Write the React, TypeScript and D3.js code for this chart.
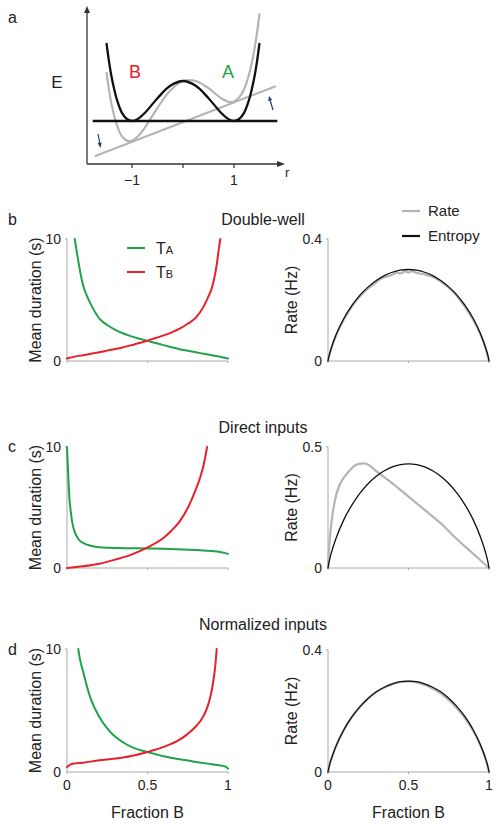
import React from "react";
import * as d3 from "d3";

const FONT = "'Liberation Sans', Arial, Helvetica, sans-serif";
const GREEN = "#1fa34a";
const RED = "#e8202a";
const GREY = "#b4b4b4";
const AXIS = "#a8a8a8";

// ---------- Panel a : energy landscape ----------
const aR = [-1.5, -1.45, -1.4, -1.35, -1.3, -1.2, -1.1, -1, -0.9, -0.75, -0.5, -0.25, 0, 0.25, 0.5, 0.75, 0.9, 1, 1.1, 1.2, 1.3, 1.35, 1.4, 1.45, 1.5];
const aBlack = [1.95, 1.48, 1.1, 0.8, 0.55, 0.21, 0.05, 0, 0.04, 0.2, 0.57, 0.88, 1, 0.88, 0.57, 0.2, 0.04, 0, 0.05, 0.21, 0.55, 0.8, 1.1, 1.48, 1.95];
const aGrey = [1.22, 0.77, 0.41, 0.14, -0.09, -0.38, -0.49, -0.49, -0.4, -0.17, 0.33, 0.76, 1, 1.0, 0.82, 0.57, 0.48, 0.49, 0.59, 0.8, 1.19, 1.46, 1.79, 2.19, 2.69];
const aFlatR = [-1.77, 1.85];
const aFlatE = [0, 0];
const aTiltR = [-1.73, 1.82];
const aTiltE = [-0.88, 0.87];
const aTicks = [-1, 0, 1];
const aTickLabels = ["\u22121", "", "1"];

// ---------- Panel b : double-well ----------
const bAx = [0.048, 0.06, 0.07, 0.085, 0.1, 0.125, 0.15, 0.2, 0.25, 0.3, 0.35, 0.4, 0.45, 0.5, 0.55, 0.6, 0.65, 0.7, 0.75, 0.8, 0.85, 0.9, 0.95, 0.98, 1.0];
const bAy = [10, 9, 8.2, 7.1, 6.2, 5.3, 4.6, 3.5, 2.95, 2.55, 2.25, 2.02, 1.83, 1.65, 1.48, 1.3, 1.13, 0.97, 0.84, 0.71, 0.59, 0.47, 0.35, 0.27, 0.2];
const bBx = [0, 0.02, 0.05, 0.1, 0.15, 0.2, 0.25, 0.3, 0.35, 0.4, 0.45, 0.5, 0.55, 0.6, 0.65, 0.7, 0.75, 0.8, 0.85, 0.875, 0.9, 0.915, 0.93, 0.94, 0.952];
const bBy = [0.2, 0.28, 0.36, 0.48, 0.6, 0.72, 0.85, 0.98, 1.13, 1.3, 1.47, 1.67, 1.88, 2.1, 2.35, 2.65, 3.05, 3.55, 4.5, 5.2, 6.0, 6.8, 7.9, 8.9, 10];
const fracX = [0, 0.005, 0.01, 0.02, 0.05, 0.1, 0.15, 0.2, 0.25, 0.3, 0.35, 0.4, 0.45, 0.5, 0.55, 0.6, 0.65, 0.7, 0.75, 0.8, 0.85, 0.9, 0.95, 0.98, 0.99, 0.995, 1];
const bEntropy = [0, 0.014, 0.024, 0.042, 0.086, 0.141, 0.183, 0.217, 0.243, 0.264, 0.28, 0.291, 0.298, 0.3, 0.298, 0.291, 0.28, 0.264, 0.243, 0.217, 0.183, 0.141, 0.086, 0.042, 0.024, 0.014, 0];
const bRateX = [0, 0.02, 0.05, 0.1, 0.15, 0.2, 0.25, 0.3, 0.33, 0.36, 0.4, 0.43, 0.45, 0.48, 0.5, 0.52, 0.55, 0.58, 0.6, 0.65, 0.7, 0.75, 0.8, 0.85, 0.9, 0.95, 0.98, 1];
const bRate = [0, 0.04, 0.084, 0.137, 0.18, 0.213, 0.238, 0.258, 0.27, 0.276, 0.283, 0.29, 0.287, 0.294, 0.29, 0.295, 0.289, 0.286, 0.284, 0.276, 0.261, 0.24, 0.213, 0.178, 0.137, 0.083, 0.04, 0];

// ---------- Panel c : direct inputs ----------
const cAx = [0, 0.005, 0.01, 0.015, 0.025, 0.035, 0.05, 0.07, 0.1, 0.13, 0.16, 0.2, 0.26, 0.35, 0.5, 0.6, 0.72, 0.8, 0.9, 0.95, 0.98, 1.0];
const cAy = [10, 8.5, 7, 5.8, 4.5, 3.6, 2.9, 2.4, 2.07, 1.9, 1.8, 1.72, 1.67, 1.64, 1.62, 1.59, 1.53, 1.48, 1.4, 1.33, 1.25, 1.17];
const cBx = [0, 0.1, 0.2, 0.3, 0.4, 0.5, 0.6, 0.65, 0.7, 0.75, 0.8, 0.83, 0.85, 0.87];
const cBy = [0, 0.14, 0.35, 0.69, 1.1, 1.7, 2.5, 3.1, 3.86, 4.96, 6.5, 7.6, 8.6, 10];
const cEntropy = [0, 0.0195, 0.035, 0.061, 0.123, 0.202, 0.262, 0.31, 0.349, 0.379, 0.402, 0.418, 0.427, 0.43, 0.427, 0.418, 0.402, 0.379, 0.349, 0.31, 0.262, 0.202, 0.123, 0.061, 0.035, 0.0195, 0];
const cRateX = [0, 0.005, 0.01, 0.02, 0.03, 0.05, 0.07, 0.1, 0.13, 0.16, 0.19, 0.22, 0.25, 0.3, 0.4, 0.5, 0.6, 0.7, 0.8, 0.9, 1];
const cRate = [0, 0.06, 0.11, 0.18, 0.23, 0.3, 0.34, 0.375, 0.4, 0.42, 0.43, 0.432, 0.427, 0.4, 0.35, 0.295, 0.24, 0.185, 0.12, 0.06, 0];

// ---------- Panel d : normalized inputs ----------
const dAx = [0.07, 0.08, 0.1, 0.125, 0.15, 0.2, 0.25, 0.3, 0.35, 0.4, 0.45, 0.5, 0.6, 0.7, 0.8, 0.9, 0.96, 0.99, 1.0];
const dAy = [10, 9.2, 8.17, 6.9, 5.86, 4.5, 3.55, 2.86, 2.4, 2.04, 1.8, 1.63, 1.28, 1.03, 0.82, 0.63, 0.52, 0.4, 0.27];
const dBx = [0, 0.02, 0.05, 0.1, 0.2, 0.3, 0.4, 0.5, 0.6, 0.7, 0.75, 0.8, 0.85, 0.88, 0.9, 0.92, 0.93];
const dBy = [0.4, 0.6, 0.7, 0.76, 0.95, 1.09, 1.3, 1.63, 2.04, 2.63, 3.1, 3.7, 4.6, 5.6, 6.7, 8.5, 10];
const dEntropy = [0, 0.0135, 0.024, 0.042, 0.085, 0.14, 0.182, 0.215, 0.242, 0.263, 0.278, 0.289, 0.296, 0.298, 0.296, 0.289, 0.278, 0.263, 0.242, 0.215, 0.182, 0.14, 0.085, 0.042, 0.024, 0.0135, 0];
const dRate = [0, 0.0135, 0.024, 0.042, 0.085, 0.139, 0.181, 0.214, 0.241, 0.262, 0.277, 0.288, 0.295, 0.297, 0.294, 0.286, 0.274, 0.258, 0.236, 0.209, 0.177, 0.137, 0.083, 0.041, 0.023, 0.013, 0];

const xTickVals = [0, 0.5, 1];
const xTickLabels = ["0", "0.5", "1"];

type Series = { x: number[]; y: number[]; color: string; width: number };

function Plot(props: {
  x0: number; x1: number; yTop: number; yBot: number; yMax: number;
  yMaxLabel: string; yLabel: string; series: Series[]; showX: boolean; labelX: number;
}) {
  const { x0, x1, yTop, yBot, yMax, yMaxLabel, yLabel, series, showX, labelX } = props;
  const xs = d3.scaleLinear().domain([0, 1]).range([x0, x1]);
  const ys = d3.scaleLinear().domain([0, yMax]).range([yBot, yTop]);
  return (
    <g>
      <line x1={x0} x2={x0} y1={yTop} y2={yBot} stroke={AXIS} strokeWidth={1} />
      <line x1={x0} x2={x1} y1={yBot} y2={yBot} stroke={AXIS} strokeWidth={1} />
      {xTickVals.map((v) => (
        <line key={v} x1={xs(v)} x2={xs(v)} y1={yBot} y2={yBot + 2} stroke={AXIS} strokeWidth={1} />
      ))}
      <line x1={x0 - 2} x2={x0} y1={yTop} y2={yTop} stroke={AXIS} />
      <text x={x0 - 6} y={ys(yMax) + 5} textAnchor="end" fontSize={14} fill="#222">{yMaxLabel}</text>
      <text x={x0 - 6} y={ys(0) + 5} textAnchor="end" fontSize={14} fill="#222">0</text>
      <text transform={`translate(${labelX},${(yTop + yBot) / 2}) rotate(-90)`} textAnchor="middle" fontSize={16} fill="#222">{yLabel}</text>
      {series.map((s, i) => {
        const pts = s.x.map((xv, j) => [xs(xv), ys(s.y[j])] as [number, number]);
        const path = d3.line().curve(d3.curveMonotoneX)(pts) || "";
        return <path key={i} d={path} fill="none" stroke={s.color} strokeWidth={s.width} strokeLinejoin="round" strokeLinecap="round" />;
      })}
      {showX && (
        <g>
          {xTickVals.map((v, i) => (
            <text key={v} x={xs(v)} y={yBot + 18} textAnchor="middle" fontSize={14} fill="#222">{xTickLabels[i]}</text>
          ))}
          <text x={(x0 + x1) / 2} y={yBot + 46} textAnchor="middle" fontSize={16} fill="#222">Fraction B</text>
        </g>
      )}
    </g>
  );
}

function PanelA() {
  const xs = d3.scaleLinear().domain([-1, 1]).range([132, 234]);
  const ys = d3.scaleLinear().domain([0, 1]).range([121, 81]);
  const mk = (r: number[], e: number[]) =>
    d3.line().curve(d3.curveCatmullRom)(r.map((v, i) => [xs(v), ys(e[i])] as [number, number])) || "";
  const axisY = 164;
  const axisX = 87;
  return (
    <g>
      <text x={8} y={23} fontSize={16} fill="#222">a</text>
      {/* axes */}
      <line x1={axisX} x2={axisX} y1={axisY} y2={12} stroke="#333" strokeWidth={1.3} />
      <path d={`M${axisX - 3},13 L${axisX},6 L${axisX + 3},13 Z`} fill="#333" />
      <line x1={axisX} x2={278} y1={axisY} y2={axisY} stroke="#333" strokeWidth={1.3} />
      <path d={`M277,${axisY - 3} L285,${axisY} L277,${axisY + 3} Z`} fill="#333" />
      {aTicks.map((t, i) => (
        <g key={t}>
          <line x1={xs(t)} x2={xs(t)} y1={axisY} y2={axisY + 4} stroke="#333" strokeWidth={1.2} />
          <text x={xs(t)} y={axisY + 21} textAnchor="middle" fontSize={14} fill="#222">{aTickLabels[i]}</text>
        </g>
      ))}
      <text x={285} y={177} fontSize={13} fill="#222">r</text>
      <text x={57} y={88} textAnchor="middle" fontSize={17} fill="#222">E</text>
      <text x={135} y={78} textAnchor="middle" fontSize={18} fill={RED}>B</text>
      <text x={228} y={78} textAnchor="middle" fontSize={18} fill={GREEN}>A</text>
      {/* tilted line and grey curve */}
      <path d={mk(aTiltR, aTiltE)} stroke={GREY} strokeWidth={2} fill="none" />
      <path d={mk(aR, aGrey)} stroke={GREY} strokeWidth={2.2} fill="none" />
      {/* flat line and black curve */}
      <path d={mk(aFlatR, aFlatE)} stroke="#111" strokeWidth={2.6} fill="none" />
      <path d={mk(aR, aBlack)} stroke="#111" strokeWidth={2.3} fill="none" />
      {/* small arrows */}
      <line x1={98} y1={134} x2={100} y2={144} stroke="#2b3a75" strokeWidth={1.2} />
      <path d="M97.6,143 L100.6,148 L101.6,142.4 Z" fill="#2b3a75" />
      <line x1={273} y1={110} x2={270} y2={100} stroke="#2b3a75" strokeWidth={1.2} />
      <path d="M268.2,101 L269,96 L272.2,100 Z" fill="#2b3a75" />
    </g>
  );
}

function Legend(props: { x: number; y: number; items: { color: string; w: number; label: React.ReactNode }[]; gap: number; len: number; tx: number; fs: number }) {
  const { x, y, items, gap, len, tx, fs } = props;
  return (
    <g>
      {items.map((it, i) => (
        <g key={i}>
          <line x1={x} x2={x + len} y1={y + i * gap} y2={y + i * gap} stroke={it.color} strokeWidth={it.w} />
          <text x={x + len + tx} y={y + i * gap + fs * 0.36} fontSize={fs} fill="#222">{it.label}</text>
        </g>
      ))}
    </g>
  );
}

export default function App() {
  const L = { x0: 67, x1: 228, labelX: 41 };
  const R = { x0: 328, x1: 489, labelX: 297 };
  return (
    <svg width={500} height={828} style={{ position: "absolute", left: 0, top: 0, background: "#fff" }} fontFamily={FONT}>
      <rect x={0} y={0} width={500} height={828} fill="#fff" />
      <PanelA />

      {/* b */}
      <text x={8} y={225} fontSize={16} fill="#222">b</text>
      <text x={263} y={225} textAnchor="middle" fontSize={16} fill="#222">Double-well</text>
      <Plot {...L} yTop={239} yBot={361} yMax={10} yMaxLabel="10" yLabel="Mean duration (s)" showX={false}
        series={[{ x: bAx, y: bAy, color: GREEN, width: 2 }, { x: bBx, y: bBy, color: RED, width: 2 }]} />
      <Legend x={127} y={248} gap={24} len={18} tx={11} fs={16} items={[
        { color: GREEN, w: 2, label: <>T<tspan fontSize={11}>A</tspan></> },
        { color: RED, w: 2, label: <>T<tspan fontSize={11}>B</tspan></> },
      ]} />
      <Plot {...R} yTop={239} yBot={361} yMax={0.4} yMaxLabel="0.4" yLabel="Rate (Hz)" showX={false}
        series={[{ x: bRateX, y: bRate, color: GREY, width: 2.2 }, { x: fracX, y: bEntropy, color: "#111", width: 1.3 }]} />
      <Legend x={402} y={211} gap={25} len={18} tx={8} fs={15} items={[
        { color: GREY, w: 2.2, label: "Rate" },
        { color: "#111", w: 2.2, label: "Entropy" },
      ]} />

      {/* c */}
      <text x={8} y={452} fontSize={16} fill="#222">c</text>
      <text x={263} y={433} textAnchor="middle" fontSize={16} fill="#222">Direct inputs</text>
      <Plot {...L} yTop={447} yBot={568} yMax={10} yMaxLabel="10" yLabel="Mean duration (s)" showX={false}
        series={[{ x: cAx, y: cAy, color: GREEN, width: 2 }, { x: cBx, y: cBy, color: RED, width: 2 }]} />
      <Plot {...R} yTop={447} yBot={568} yMax={0.5} yMaxLabel="0.5" yLabel="Rate (Hz)" showX={false}
        series={[{ x: cRateX, y: cRate, color: GREY, width: 2.2 }, { x: fracX, y: cEntropy, color: "#111", width: 1.3 }]} />

      {/* d */}
      <text x={8} y={655} fontSize={16} fill="#222">d</text>
      <text x={263} y={630} textAnchor="middle" fontSize={16} fill="#222">Normalized inputs</text>
      <Plot {...L} yTop={649} yBot={772} yMax={10} yMaxLabel="10" yLabel="Mean duration (s)" showX={true}
        series={[{ x: dAx, y: dAy, color: GREEN, width: 2 }, { x: dBx, y: dBy, color: RED, width: 2 }]} />
      <Plot {...R} yTop={650} yBot={772} yMax={0.4} yMaxLabel="0.4" yLabel="Rate (Hz)" showX={true}
        series={[{ x: fracX, y: dRate, color: GREY, width: 2.2 }, { x: fracX, y: dEntropy, color: "#111", width: 1.3 }]} />
    </svg>
  );
}
